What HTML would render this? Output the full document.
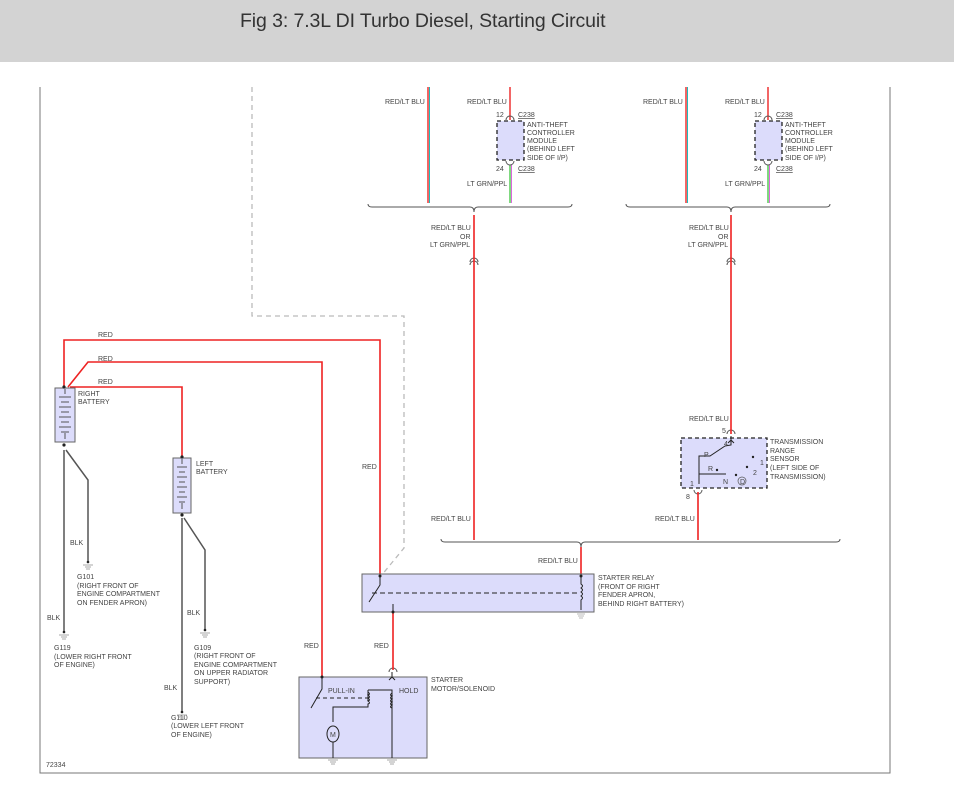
<!DOCTYPE html>
<html><head><style>
body{margin:0;width:954px;height:798px;background:#fff;overflow:hidden;font-family:"Liberation Sans",sans-serif}
.hd{position:absolute;left:0;top:0;width:954px;height:62px;background:#d3d3d3}
.hd span{position:absolute;left:240px;top:10px;font-size:19.5px;color:#333;letter-spacing:-0.1px}
svg{position:absolute;left:0;top:0}
text{font-family:"Liberation Sans",sans-serif;font-size:7px;fill:#444}
</style></head><body>
<div class="hd"><span>Fig 3: 7.3L DI Turbo Diesel, Starting Circuit</span></div>
<svg width="954" height="798" viewBox="0 0 954 798">
<g fill="none" stroke="#777" stroke-width="1">
<path d="M40 87V773H890V87"/>
</g>
<path d="M252 87V316H404V548L381 576" fill="none" stroke="#bbb" stroke-width="1.3" stroke-dasharray="5,4"/>
<g stroke-width="1.5" fill="none">
<path d="M428 87V203" stroke="#e33"/><path d="M429.5 87V203" stroke="#2bb" stroke-width="1"/>
<path d="M510 87V120" stroke="#e33"/>
<path d="M510 165V203" stroke="#5c5"/><path d="M511.5 165V203" stroke="#d6d" stroke-width="1"/>
<path d="M686 87V203" stroke="#e33"/><path d="M687.5 87V203" stroke="#2bb" stroke-width="1"/>
<path d="M768 87V120" stroke="#e33"/>
<path d="M768 165V203" stroke="#5c5"/><path d="M769.5 165V203" stroke="#d6d" stroke-width="1"/>
</g>
<g fill="#dcdcfb" stroke="#222" stroke-width="1.3" stroke-dasharray="4,3">
<rect x="497" y="121" width="27" height="39"/><rect x="755" y="121" width="27" height="39"/>
<rect x="681" y="438" width="86" height="50"/>
</g>
<g fill="none" stroke="#555" stroke-width="1">
<path d="M506 120a4 4 0 0 1 8 0M506 161a4 4 0 0 0 8 0M764 120a4 4 0 0 1 8 0M764 161a4 4 0 0 0 8 0"/>
<path d="M368 204q0 3 4 3h98q4 0 4 5q0-5 4-5h90q4 0 4-3"/>
<path d="M626 204q0 3 4 3h97q4 0 4 5q0-5 4-5h91q4 0 4-3"/>
<path d="M441 539q0 3 4 3h132q4 0 4 5q0-5 4-5h251q4 0 4-3"/>
<path d="M470 262a4 4 0 0 1 8 0M470 265a4 4 0 0 1 8 0M727 262a4 4 0 0 1 8 0M727 265a4 4 0 0 1 8 0"/>
<path d="M727 434a4 4 0 0 1 8 0M694 490a4 4 0 0 0 8 0M389 672a4 4 0 0 1 8 0"/>
</g>
<g fill="#444" font-size="7">
<text x="385" y="104">RED/LT BLU</text><text x="467" y="104">RED/LT BLU</text>
<text x="496" y="117">12</text><text x="518" y="117" text-decoration="underline">C238</text>
<text x="527" y="127">ANTI-THEFT</text><text x="527" y="135">CONTROLLER</text><text x="527" y="143">MODULE</text><text x="527" y="151">(BEHIND LEFT</text><text x="527" y="160">SIDE OF I/P)</text>
<text x="496" y="171">24</text><text x="518" y="171" text-decoration="underline">C238</text>
<text x="467" y="186">LT GRN/PPL</text>
<text x="643" y="104">RED/LT BLU</text><text x="725" y="104">RED/LT BLU</text>
<text x="754" y="117">12</text><text x="776" y="117" text-decoration="underline">C238</text>
<text x="785" y="127">ANTI-THEFT</text><text x="785" y="135">CONTROLLER</text><text x="785" y="143">MODULE</text><text x="785" y="151">(BEHIND LEFT</text><text x="785" y="160">SIDE OF I/P)</text>
<text x="754" y="171">24</text><text x="776" y="171" text-decoration="underline">C238</text>
<text x="725" y="186">LT GRN/PPL</text>
<text x="431" y="230">RED/LT BLU</text><text x="460" y="239">OR</text><text x="430" y="247">LT GRN/PPL</text>
<text x="689" y="230">RED/LT BLU</text><text x="718" y="239">OR</text><text x="688" y="247">LT GRN/PPL</text>
<text x="689" y="421">RED/LT BLU</text><text x="722" y="433">5</text>
<text x="770" y="444">TRANSMISSION</text><text x="770" y="453">RANGE</text><text x="770" y="461">SENSOR</text><text x="770" y="470">(LEFT SIDE OF</text><text x="770" y="479">TRANSMISSION)</text>
<text x="686" y="499">8</text><text x="655" y="521">RED/LT BLU</text>
<text x="431" y="521">RED/LT BLU</text>
<text x="538" y="563">RED/LT BLU</text>
<text x="598" y="580">STARTER RELAY</text><text x="598" y="589">(FRONT OF RIGHT</text><text x="598" y="597">FENDER APRON,</text><text x="598" y="606">BEHIND RIGHT BATTERY)</text>
<text x="362" y="469">RED</text><text x="374" y="648">RED</text><text x="304" y="648">RED</text>
<text x="431" y="682">STARTER</text><text x="431" y="691">MOTOR/SOLENOID</text>
<text x="98" y="337">RED</text><text x="98" y="361">RED</text><text x="98" y="384">RED</text>
<text x="78" y="396">RIGHT</text><text x="78" y="404">BATTERY</text>
<text x="196" y="466">LEFT</text><text x="196" y="474">BATTERY</text>
<text x="70" y="545">BLK</text><text x="47" y="620">BLK</text><text x="187" y="615">BLK</text><text x="164" y="690">BLK</text>
<text x="77" y="579">G101</text><text x="77" y="588">(RIGHT FRONT OF</text><text x="77" y="596">ENGINE COMPARTMENT</text><text x="77" y="605">ON FENDER APRON)</text>
<text x="54" y="650">G119</text><text x="54" y="659">(LOWER RIGHT FRONT</text><text x="54" y="667">OF ENGINE)</text>
<text x="194" y="650">G109</text><text x="194" y="658">(RIGHT FRONT OF</text><text x="194" y="667">ENGINE COMPARTMENT</text><text x="194" y="675">ON UPPER RADIATOR</text><text x="194" y="684">SUPPORT)</text>
<text x="171" y="720">G110</text><text x="171" y="728">(LOWER LEFT FRONT</text><text x="171" y="737">OF ENGINE)</text>
<text x="46" y="767">72334</text>
</g>
<g stroke="#e22" stroke-width="1.6" fill="none">
<path d="M474 215V540M731 215V434M698 492V540M581 547V576"/>
<path d="M64 387V340H380V576"/>
<path d="M68 387L88 362H322V677"/>
<path d="M70 387H182V456"/>
<path d="M393 612V670"/>
</g>
<rect x="362" y="574" width="232" height="38" fill="#dcdcfb" stroke="#666"/>
<g stroke="#222" stroke-width="1" fill="none">
<path d="M380 576V585L369 602"/>
<path d="M372 593H578" stroke-dasharray="5,3"/>
<path d="M581 576V584q3 2 0 4q3 2 0 4q3 2 0 4q3 2 0 4V610"/>
<path d="M393 604V612"/>
</g>
<path d="M577 614h8M578 616h6M579 618h4" stroke="#bbb"/>
<rect x="299" y="677" width="128" height="81" fill="#dcdcfb" stroke="#666"/>
<g stroke="#222" stroke-width="1" fill="none">
<path d="M322 677V689L311 708"/>
<path d="M316 698H368" stroke-dasharray="4,3"/>
<path d="M368 690V701M368 690H392V713V758"/>
<path d="M368 692q3 2 0 3q3 2 0 3q3 2 0 3q3 2 0 3V707H333V722"/>
<path d="M392 693q-3 2 0 3q-3 2 0 3q-3 2 0 3q-3 2 0 3q-3 2 0 3"/>
<path d="M392 672V677M389 680l3-3l3 3"/>
<ellipse cx="333" cy="734" rx="6" ry="8" fill="#dcdcfb"/>
<path d="M333 742V758"/>
</g>
<text x="330" y="737" font-size="7">M</text>
<text x="328" y="693">PULL-IN</text><text x="399" y="693">HOLD</text>
<g stroke="#aaa"><path d="M328 760h10M330 762h6M331 764h4M387 760h10M389 762h6M390 764h4"/></g>
<g stroke="#222" stroke-width="1" fill="none">
<path d="M731 436V445L725 446M731 440l-3 3M731 440l3 3M725 446L710 456L699 456V474H726M699 474V484"/>
</g>
<g font-size="7"><text x="724" y="446">4</text><text x="704" y="457">P</text><text x="708" y="471">R</text><text x="723" y="484">N</text><text x="760" y="465">1</text><text x="753" y="475">2</text><text x="690" y="486">1</text>
<circle cx="742" cy="481" r="4" fill="none" stroke="#555" stroke-width="0.7"/><text x="740" y="484" font-size="6">D</text></g>
<g fill="#222"><circle cx="717" cy="470" r="1.2"/><circle cx="736" cy="475" r="1.2"/><circle cx="747" cy="467" r="1.2"/><circle cx="753" cy="457" r="1.2"/></g>
<g stroke="#666" fill="#dcdcfb"><rect x="55" y="388" width="20" height="54"/><rect x="173" y="458" width="18" height="55"/></g>
<g stroke="#555" stroke-width="1"><path d="M59 397h12M61 402h8M59 407h12M61 412h8M59 417h12M61 422h8M59 427h12M61 432h8M65 389v5M65 433v6M177 467h10M179 472h6M177 477h10M179 482h6M177 487h10M179 492h6M177 497h10M179 502h6M182 459v5M182 503v6"/></g>
<g stroke="#555" stroke-width="1.5" fill="none">
<path d="M64 450V632M66 450L88 480V562M182 518V712M184 518L205 550V630"/>
</g>
<g fill="#222"><circle cx="64" cy="387" r="1.6"/><circle cx="64" cy="445" r="1.6"/><circle cx="182" cy="457" r="1.6"/><circle cx="182" cy="515" r="1.6"/>
<circle cx="88" cy="562" r="1.3"/><circle cx="64" cy="632" r="1.3"/><circle cx="205" cy="630" r="1.3"/><circle cx="182" cy="712" r="1.3"/>
<circle cx="380" cy="576" r="1.5"/><circle cx="581" cy="576" r="1.5"/><circle cx="393" cy="612" r="1.5"/><circle cx="322" cy="677" r="1.5"/></g>
<g stroke="#aaa"><path d="M83 565h10M85 567h6M86 569h4M59 635h10M61 637h6M62 639h4M200 633h10M202 635h6M203 637h4M177 715h10M179 717h6M180 719h4"/></g>
</svg>
</body></html>
